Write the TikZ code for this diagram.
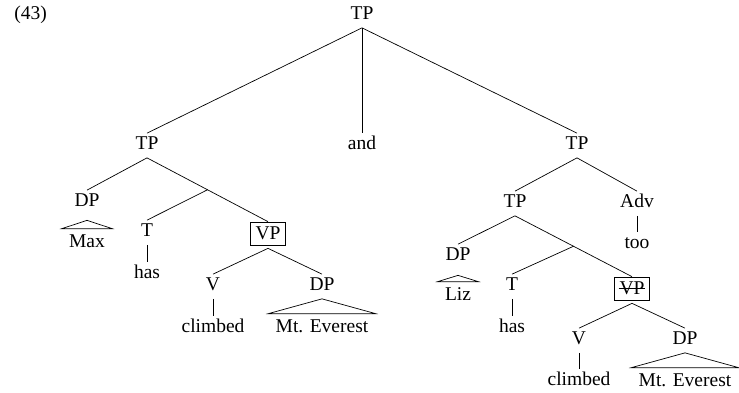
\documentclass[tikz,border=0pt]{standalone}
\usepackage{fontspec}
\setmainfont{Liberation Serif}
\usetikzlibrary{calc}
\begin{document}
\begin{tikzpicture}[x=1pt,y=-1pt,line width=0.7pt,
  lab/.style={anchor=base,inner xsep=2pt,inner ysep=3.5pt,text height=12pt,text depth=5pt,font=\fontsize{19.5}{23}\selectfont},
  roof/.style={lab,inner xsep=7pt,inner ysep=6pt,text depth=0pt},
  boxed/.style={lab,draw,line width=0.7pt,inner xsep=5pt,inner ysep=4pt,text height=13pt,text depth=2pt}]
\useasboundingbox (0,0) rectangle (739,392);
% labels
\node[lab,anchor=base west] (ex) at (12,19) {(43)};
\node[lab] (tp) at (362,19) {TP};
\node[lab] (tpL) at (147,149) {TP};
\node[lab] (and) at (362,149) {and};
\node[lab] (tpR) at (577,149) {TP};
% left conjunct
\node[lab] (dpL) at (87,206) {DP};
\node[roof] (max) at (87,247) {Max};
\node[lab] (tL) at (147,236) {T};
\node[lab] (hasL) at (147,278) {has};
\node[boxed] (vpL) at (268,239) {VP};
\node[lab] (vL) at (213,290) {V};
\node[lab] (clL) at (213,332) {climbed};
\node[lab] (dpL2) at (322,290) {DP};
\node[roof] (mtL) at (322,332) {Mt. Everest};
% right conjunct
\node[lab] (tpR2) at (515,207) {TP};
\node[lab] (adv) at (637,207) {Adv};
\node[lab] (too) at (637,248) {too};
\node[lab] (dpR) at (458,260) {DP};
\node[roof] (liz) at (458,300) {Liz};
\node[lab] (tR) at (512,290) {T};
\node[lab] (hasR) at (512,332) {has};
\node[boxed] (vpR) at (632,294) {VP};
\node[lab] (vR) at (579,344) {V};
\node[lab] (clR) at (579,385) {climbed};
\node[lab] (dpR2) at (685,344) {DP};
\node[roof] (mtR) at (685,386) {Mt. Everest};
% strike-through of elided VP
\draw[line width=0.6pt] ([xshift=4.5pt,yshift=5.5pt]vpR.base west) -- ([xshift=-4.5pt,yshift=5.5pt]vpR.base east);
% top level
\draw (tp.south) -- (tpL.north);
\draw (tp.south) -- (and.north);
\draw (tp.south) -- (tpR.north);
% left
\draw (tpL.south) -- (dpL.north);
\draw (tpL.south) -- (vpL.north);
\coordinate (barL) at ($(tpL.south)!0.5!(vpL.north)$);
\draw (barL) -- (tL.north);
\draw (tL.south) -- (hasL.north);
\draw ([yshift=-5.5pt]dpL.south) -- (max.north west) -- (max.north east) -- cycle;
\draw ([yshift=-3pt]vpL.south) -- (vL.north);
\draw ([yshift=-3pt]vpL.south) -- (dpL2.north);
\draw (vL.south) -- (clL.north);
\draw (dpL2.south) -- (mtL.north west) -- (mtL.north east) -- cycle;
% right
\draw (tpR.south) -- (tpR2.north);
\draw (tpR.south) -- (adv.north);
\draw (adv.south) -- (too.north);
\draw (tpR2.south) -- (dpR.north);
\draw (tpR2.south) -- (vpR.north);
\coordinate (barR) at ($(tpR2.south)!0.5!(vpR.north)$);
\draw (barR) -- (tR.north);
\draw (tR.south) -- (hasR.north);
\draw ([yshift=-6.5pt]dpR.south) -- (liz.north west) -- (liz.north east) -- cycle;
\draw ([yshift=-3pt]vpR.south) -- (vR.north);
\draw ([yshift=-3pt]vpR.south) -- (dpR2.north);
\draw (vR.south) -- (clR.north);
\draw (dpR2.south) -- (mtR.north west) -- (mtR.north east) -- cycle;
\end{tikzpicture}
\end{document}
